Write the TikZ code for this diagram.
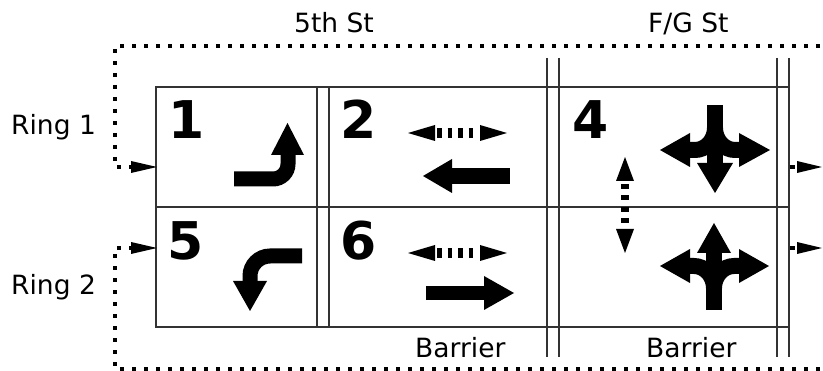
\documentclass[tikz,border=0pt]{standalone}
\usepackage{fontspec}
\setmainfont{DejaVu Sans}
\begin{document}
\begin{tikzpicture}[x=1pt,y=-1pt,
  grid/.style={draw=black!80, line width=1.2pt},
  ringline/.style={line width=4pt, dash pattern=on 4pt off 8pt, black},
  lbl/.style={font=\fontsize{26.5}{30}\selectfont, anchor=base west, inner sep=0pt},
  phase/.style={font=\fontsize{52}{60}\selectfont\bfseries, anchor=base west, inner sep=0pt},
  shaft/.style={line width=15pt, black},
  dotshaft/.style={line width=10pt, dash pattern=on 4.5pt off 6pt, black},
]
\useasboundingbox (0,0) rectangle (823,371);

% ---- signal grid ----
\draw[grid] (156,87) rectangle (789,327);
\draw[grid] (156,207) -- (789,207);
\draw[grid] (317,87) -- (317,327);
\draw[grid] (329,87) -- (329,327);
\draw[grid] (547,58) -- (547,357);
\draw[grid] (559,58) -- (559,357);
\draw[grid] (777,58) -- (777,357);
\draw[grid] (789,58) -- (789,357);

% ---- labels ----
\node[lbl] (st5) at (294,33) {5th St};
\node[lbl] (stfg) at (648,33) {F/G St};
\node[lbl] (ring1) at (11,135) {Ring 1};
\node[lbl] (ring2) at (11,295) {Ring 2};
\node[lbl] (bar1) at (415,358) {Barrier};
\node[lbl] (bar2) at (646,358) {Barrier};

% ---- phase numbers ----
\node[phase] (p1) at (168,139) {1};
\node[phase] (p2) at (340,139) {2};
\node[phase] (p4) at (572,139) {4};
\node[phase] (p5) at (167,260) {5};
\node[phase] (p6) at (340,260) {6};

% ---- ring paths ----
\coordinate (r1end) at (820,46);
\coordinate (r1corner) at (115,46);
\coordinate (r1turn) at (115,167);
\coordinate (r1in) at (131,167);
\draw[ringline] (r1end) -- (r1corner) -- (r1turn) -- (r1in);
\fill (131,161) -- (157,167) -- (131,173) -- cycle;

\coordinate (r2end) at (820,369);
\coordinate (r2corner) at (115,369);
\coordinate (r2turn) at (115,248);
\coordinate (r2in) at (131,248);
\draw[ringline] (r2end) -- (r2corner) -- (r2turn) -- (r2in);
\fill (131,242) -- (157,248) -- (131,254) -- cycle;

% exits on the right
\draw[line width=4pt] (790,167) -- (795,167);
\fill (797,161) -- (822,167) -- (797,173) -- cycle;
\draw[line width=4pt] (790,248) -- (795,248);
\fill (797,242) -- (822,248) -- (797,254) -- cycle;

% ---- phase 1: turn arrow ----
\draw[shaft] (234,179) -- (273,179) .. controls (281.3,179) and (288,172.3) .. (288,164) -- (288,152);
\fill (271,155) -- (287.5,123) -- (304,155) -- cycle;

% ---- phase 2 ----
\draw[dotshaft] (437,133) -- (478,133);
\fill (435,125) -- (408,133) -- (435,141) -- cycle;
\fill (480,125) -- (507,133) -- (480,141) -- cycle;
\draw[line width=15.5pt] (452,176) -- (510,176);
\fill (452,159) -- (423,176) -- (452,193) -- cycle;

% ---- phase 6 ----
\draw[dotshaft] (437,253) -- (478,253);
\fill (435,245) -- (408,253) -- (435,261) -- cycle;
\fill (480,245) -- (507,253) -- (480,261) -- cycle;
\draw[line width=14pt] (426,293) -- (486,293);
\fill (484,276) -- (514,293) -- (484,310) -- cycle;

% ---- phase 5: turn arrow ----
\draw[shaft] (302,256) -- (270,256) .. controls (259,256) and (250,265) .. (250,276) -- (250,283);
\fill (233,281) -- (250,311) -- (267,281) -- cycle;

% ---- column 4 dotted double arrow ----
\draw[line width=8pt, dash pattern=on 5pt off 6.5pt] (625,184) -- (625,228);
\fill (616,181) -- (625,157) -- (634,181) -- cycle;
\fill (616,229) -- (625,253) -- (634,229) -- cycle;

% ---- phase 4: three-way arrow ----
\draw[line width=16pt] (715,105) -- (715,165);
\fill (697,163) -- (715,193) -- (733,163) -- cycle;
\draw[line width=16pt] (715,128) .. controls (715,140) and (706,150) .. (695,150) -- (688,150);
\draw[line width=16pt] (715,128) .. controls (715,140) and (724,150) .. (735,150) -- (741,150);
\fill (690,133) -- (660,150) -- (690,167) -- cycle;
\fill (739,133) -- (770,150) -- (739,167) -- cycle;

% ---- phase 8: three-way arrow ----
\draw[line width=16pt] (714,310) -- (714,251);
\fill (697,253) -- (714,223) -- (731,253) -- cycle;
\draw[line width=16pt] (714,288) .. controls (714,276) and (705,266) .. (694,266) -- (688,266);
\draw[line width=16pt] (714,288) .. controls (714,276) and (723,266) .. (734,266) -- (741,266);
\fill (690,249) -- (660,266) -- (690,283) -- cycle;
\fill (739,249) -- (769,266) -- (739,283) -- cycle;
\end{tikzpicture}
\end{document}
